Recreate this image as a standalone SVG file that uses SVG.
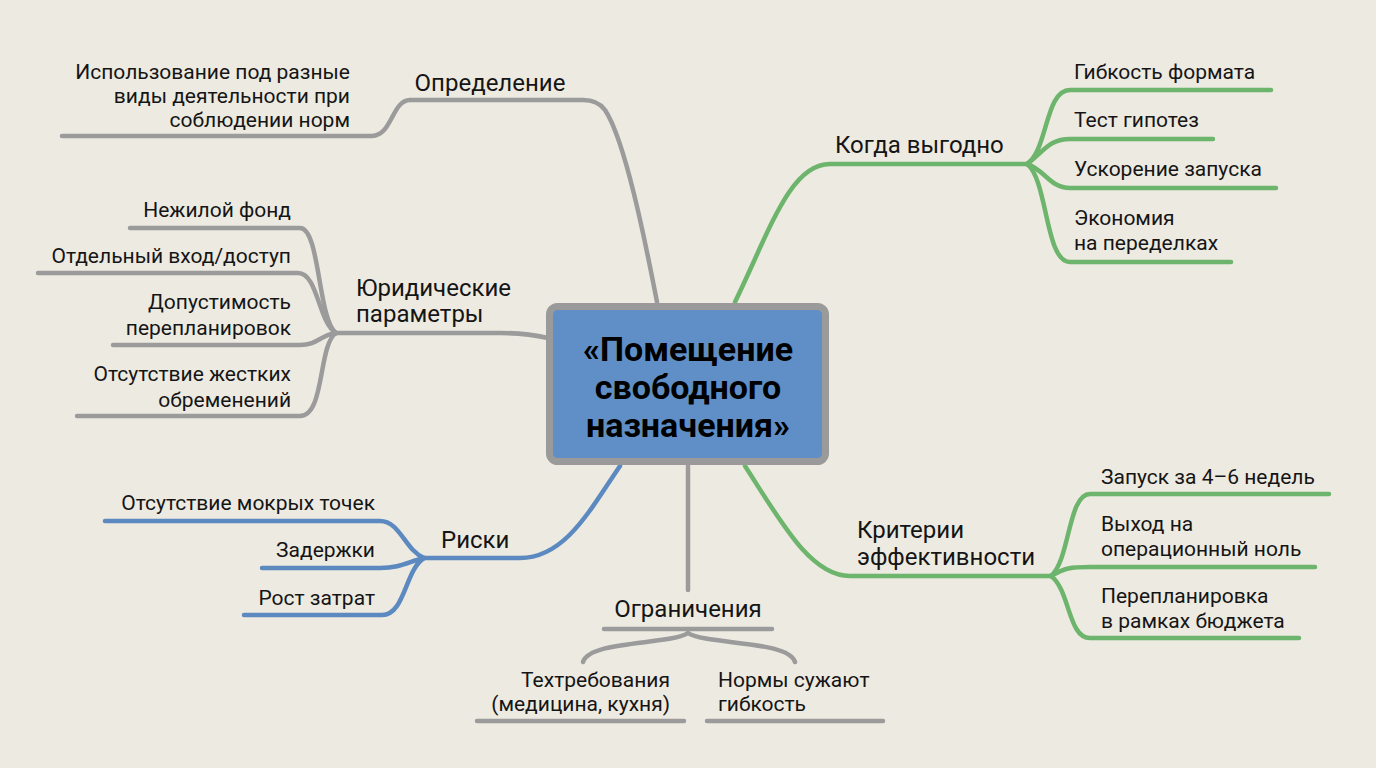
<svg xmlns="http://www.w3.org/2000/svg" width="1376" height="768" viewBox="0 0 1376 768">
<style>
.bg{fill:#EDEAE1}
.c{fill:none;stroke-width:4.5;stroke-linecap:round}
.g{stroke:#9B9B9B}
.gr{stroke:#6DB46D}
.b{stroke:#5B89C0}
text{font-family:Roboto,"Noto Sans",sans-serif;fill:#151515}
.l{font-size:21px}
.m{font-size:24px}
.r{text-anchor:end}
.mid{text-anchor:middle}
.t{font-size:34px;font-weight:bold;text-anchor:middle;fill:#000}
</style>
<rect class="bg" x="0" y="0" width="1376" height="768"/>
<g id="connectors">
  <path class="c g" d="M657,302 C645,240 625,140 605,110 Q598,100 583,100 L410,100"/>
  <path class="c g" d="M410,100 C392,100 392,136 372,136 L62,136"/>
  <path class="c g" d="M548,338 C530,334 520,333 500,333 L336,333"/>
  <path class="c g" d="M336,333 C318,320 320,228 300,228 L130,228"/>
  <path class="c g" d="M336,333 C318,322 318,273 298,273 L38,273"/>
  <path class="c g" d="M336,333 C320,335 318,345 300,345 L113,345"/>
  <path class="c g" d="M336,333 C318,345 325,416 300,416 L77,416"/>
  <path class="c b" d="M620,466 C590,510 565,558 520,558 L424,558"/>
  <path class="c b" d="M424,558 C405,550 400,521 380,521 L105,521"/>
  <path class="c b" d="M424,558 C408,562 400,568 380,568 L262,568"/>
  <path class="c b" d="M424,558 C405,570 405,615 382,615 L244,615"/>
  <path class="c g" d="M688,466 L688,590"/>
  <path class="c g" d="M604,629 L772,629"/>
  <path class="c g" d="M688,633 C670,645 590,640 583,662"/>
  <path class="c g" d="M688,633 C706,645 788,640 795,662"/>
  <path class="c g" d="M477,721 L684,721"/>
  <path class="c g" d="M707,721 L883,721"/>
  <path class="c gr" d="M735,302 C770,230 790,164 830,164 L1027,164"/>
  <path class="c gr" d="M1027,164 C1048,150 1045,90 1070,90 L1271,90"/>
  <path class="c gr" d="M1027,164 C1045,150 1050,139 1070,139 L1213,139"/>
  <path class="c gr" d="M1027,164 C1045,170 1050,188 1070,188 L1276,188"/>
  <path class="c gr" d="M1027,164 C1048,180 1045,262 1070,262 L1231,262"/>
  <path class="c gr" d="M745,466 C780,520 810,576 850,576 L1051,576"/>
  <path class="c gr" d="M1051,576 C1070,560 1068,494 1090,494 L1329,494"/>
  <path class="c gr" d="M1051,576 C1065,568 1070,567 1090,567 L1315,567"/>
  <path class="c gr" d="M1051,576 C1070,590 1068,638 1090,638 L1299,638"/>
</g>
<g id="center">
  <rect x="549.5" y="306.5" width="276" height="155" rx="8" fill="#5F8FC6" stroke="#9A9A9A" stroke-width="7"/>
  <text class="t" x="688" y="361">«Помещение</text>
  <text class="t" x="688" y="399">свободного</text>
  <text class="t" x="688" y="437">назначения»</text>
</g>
<g id="definition">
  <text class="m mid" x="490" y="91">Определение</text>
</g>
<g id="definition-leaf">
  <text class="l r" x="350" y="79">Использование под разные</text>
  <text class="l r" x="350" y="103">виды деятельности при</text>
  <text class="l r" x="350" y="127">соблюдении норм</text>
</g>
<g id="legal">
  <text class="m" x="356" y="296">Юридические</text>
  <text class="m" x="356" y="322">параметры</text>
</g>
<g id="legal-1"><text class="l r" x="291" y="217">Нежилой фонд</text></g>
<g id="legal-2"><text class="l r" x="291" y="263">Отдельный вход/доступ</text></g>
<g id="legal-3">
  <text class="l r" x="291" y="309">Допустимость</text>
  <text class="l r" x="291" y="335">перепланировок</text>
</g>
<g id="legal-4">
  <text class="l r" x="291" y="381">Отсутствие жестких</text>
  <text class="l r" x="291" y="407">обременений</text>
</g>
<g id="risks"><text class="m" x="441" y="548">Риски</text></g>
<g id="risk-1"><text class="l r" x="375" y="510">Отсутствие мокрых точек</text></g>
<g id="risk-2"><text class="l r" x="375" y="557">Задержки</text></g>
<g id="risk-3"><text class="l r" x="375" y="605">Рост затрат</text></g>
<g id="limits"><text class="m mid" x="688" y="617">Ограничения</text></g>
<g id="limit-1">
  <text class="l r" x="670" y="687">Техтребования</text>
  <text class="l r" x="670" y="711">(медицина, кухня)</text>
</g>
<g id="limit-2">
  <text class="l" x="718" y="687">Нормы сужают</text>
  <text class="l" x="718" y="711">гибкость</text>
</g>
<g id="benefit"><text class="m" x="835" y="153">Когда выгодно</text></g>
<g id="benefit-1"><text class="l" x="1074" y="79">Гибкость формата</text></g>
<g id="benefit-2"><text class="l" x="1074" y="127">Тест гипотез</text></g>
<g id="benefit-3"><text class="l" x="1074" y="176">Ускорение запуска</text></g>
<g id="benefit-4">
  <text class="l" x="1074" y="225">Экономия</text>
  <text class="l" x="1074" y="250">на переделках</text>
</g>
<g id="criteria">
  <text class="m" x="857" y="538">Критерии</text>
  <text class="m" x="857" y="565">эффективности</text>
</g>
<g id="criteria-1"><text class="l" x="1101" y="484">Запуск за 4–6 недель</text></g>
<g id="criteria-2">
  <text class="l" x="1101" y="531">Выход на</text>
  <text class="l" x="1101" y="556">операционный ноль</text>
</g>
<g id="criteria-3">
  <text class="l" x="1101" y="603">Перепланировка</text>
  <text class="l" x="1101" y="628">в рамках бюджета</text>
</g>
</svg>
